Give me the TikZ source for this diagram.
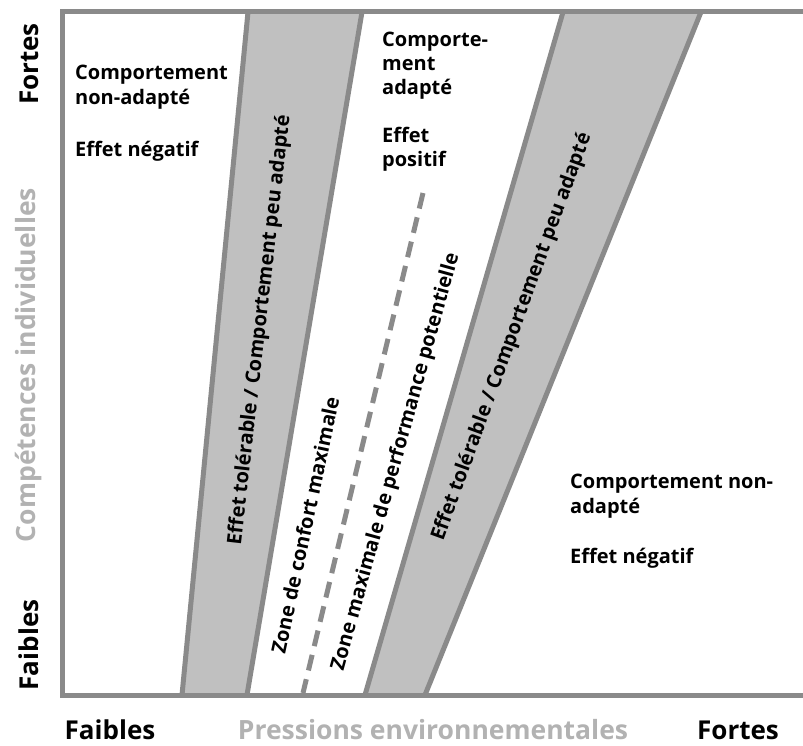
\documentclass[tikz,border=0pt]{standalone}
\usepackage{fontspec}
\setmainfont{Open Sans}
\definecolor{edgegray}{RGB}{138,138,138}
\definecolor{bandgray}{RGB}{192,192,192}
\definecolor{labelgray}{RGB}{178,178,178}
\tikzset{
  bandedge/.style={draw=edgegray, line width=5pt},
  bandfill/.style={fill=bandgray},
  framestyle/.style={draw=edgegray, line width=5pt},
  dashline/.style={draw=edgegray, line width=5pt, dash pattern=on 16pt off 9pt},
  txt/.style={font=\bfseries\fontsize{20}{25}\selectfont, inner sep=0pt, anchor=base west},
  rtxt/.style={font=\bfseries\fontsize{20}{25}\selectfont, inner sep=0pt, anchor=center},
  axlbl/.style={font=\bfseries\fontsize{26}{30}\selectfont, inner sep=0pt, anchor=base},
  axgray/.style={font=\bfseries\fontsize{26.5}{30}\selectfont, inner sep=0pt, anchor=base, text=labelgray},
}
\begin{document}
\begin{tikzpicture}[x=1pt,y=-1pt]
\useasboundingbox (0,0) rectangle (803,746);
% bands
\fill[bandfill] (248,12) -- (362,12) -- (247,695) -- (182,695) -- cycle;
\fill[bandfill] (563,12) -- (701,12) -- (425,695) -- (365,695) -- cycle;
\coordinate (b1tl) at (248,12); \coordinate (b1bl) at (182,695);
\coordinate (b1tr) at (362,12); \coordinate (b1br) at (247,695);
\coordinate (b2tl) at (563,12); \coordinate (b2bl) at (365,695);
\coordinate (b2tr) at (701,12); \coordinate (b2br) at (425,695);
\draw[bandedge] (b1tl) -- (b1bl);
\draw[bandedge] (b1tr) -- (b1br);
\draw[bandedge] (b2tl) -- (b2bl);
\draw[bandedge] (b2tr) -- (b2br);
% dashed line
\coordinate (dtop) at (423,193); \coordinate (dbot) at (303,693);
\draw[dashline] (dtop) -- (dbot);
% frame
\coordinate (ftr) at (803,12); \coordinate (ftl) at (62.5,12);
\coordinate (fbl) at (62.5,695); \coordinate (fbr) at (803,695);
\draw[framestyle] (ftr) -- (ftl) -- (fbl) -- (fbr);
% left block
\node[txt] (l1) at (75,80) {Comportement};
\node[txt] (l2) at (75,105) {non-adapté};
\node[txt] (l3) at (75,157) {Effet négatif};
% middle block
\node[txt] (m1) at (382,46.5) {Comporte-};
\node[txt] (m2) at (382,71) {ment};
\node[txt] (m3) at (382,95) {adapté};
\node[txt] (m4) at (382,143) {Effet};
\node[txt] (m5) at (382,167) {positif};
% right block
\node[txt] (r1) at (570,488) {Comportement non-};
\node[txt] (r2) at (570,513) {adapté};
\node[txt] (r3) at (570,563) {Effet négatif};
% rotated texts
\node[rtxt, rotate=83.5] (band1) at (260,330) {Effet tolérable / Comportement peu adapté};
\node[rtxt, rotate=70] (band2) at (512,337) {Effet tolérable / Comportement peu adapté};
\node[rtxt, rotate=78] (zone1) at (305,525) {Zone de confort maximale};
\node[rtxt, rotate=74.5] (zone2) at (396,462) {Zone maximale de performance potentielle};
% axis labels
\node[axlbl, rotate=90] (yhigh) at (38,64) {Fortes};
\node[axlbl, rotate=90] (ylow) at (38,645) {Faibles};
\node[axgray, rotate=90] (ytitle) at (35,365) {Compétences individuelles};
\node[axlbl] (xlow) at (110,739) {Faibles};
\node[axgray] (xtitle) at (433,739) {Pressions environnementales};
\node[axlbl] (xhigh) at (738,739) {Fortes};
\end{tikzpicture}
\end{document}
